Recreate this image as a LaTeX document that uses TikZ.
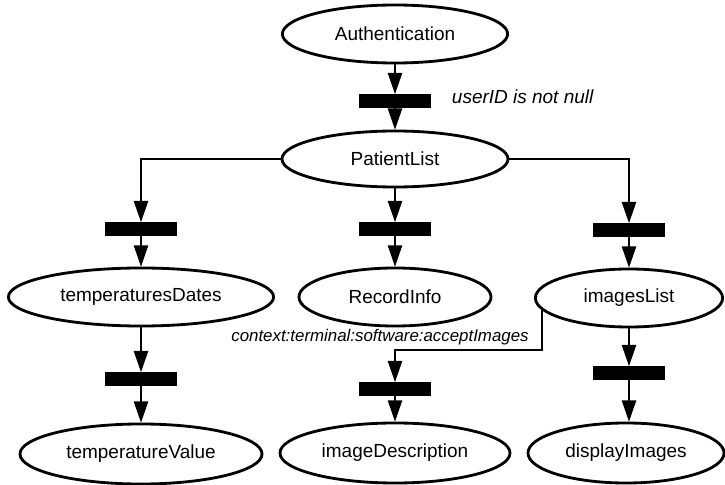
\documentclass[tikz,border=0pt]{standalone}
\usepackage{fontspec}
\setmainfont{Liberation Sans}
\usetikzlibrary{arrows.meta, shapes.geometric, calc}

\begin{document}
\begin{tikzpicture}[x=0.025cm, y=-0.025cm,
  task/.style={ellipse, draw, line width=2pt, minimum height=1.45cm, inner sep=0pt, font=\fontsize{13.5}{16}\selectfont},
  sync/.style={fill=black, minimum width=1.78cm, minimum height=0.33cm, inner sep=0pt},
  flow/.style={line width=0.9pt, -{Triangle[length=5.3mm,width=3.6mm]}},
  guard/.style={font=\fontsize{12}{14}\selectfont\itshape}]
\useasboundingbox (0,0) rectangle (725,485);
\node[task, minimum width=5.63cm] (auth) at (395,34) {Authentication};
\node[sync] (bar0) at (395,101) {};
\node[task, minimum width=5.65cm, minimum height=1.4cm] (patient) at (395,159) {PatientList};
\node[guard, anchor=west, font=\fontsize{13.5}{16}\selectfont\itshape] (guardauth) at (447,97) {userID is not null};
\node[sync] (barL) at (141,229) {};
\node[sync] (barM) at (395,229) {};
\node[sync] (barR) at (629,230) {};
\node[task, minimum width=6.63cm] (tempdates) at (141,297) {temperaturesDates};
\node[task, minimum width=4.8cm] (record) at (395,297) {RecordInfo};
\node[task, minimum width=4.68cm] (images) at (629,298) {imagesList};
\node[sync] (barL2) at (141,379) {};
\node[sync] (barM2) at (395,389) {};
\node[sync] (barR2) at (629,373) {};
\node[guard] (guardctx) at (380,337) {context:terminal:software:acceptImages};
\node[task, minimum width=6.05cm, minimum height=1.5cm] (tempvalue) at (141,454) {temperatureValue};
\node[task, minimum width=5.75cm, minimum height=1.5cm] (imagedesc) at (395,453) {imageDescription};
\node[task, minimum width=4.9cm, minimum height=1.5cm] (display) at (626,453) {displayImages};
\coordinate (ctxturn) at (0,350);
\draw[flow] (auth.south) -- (bar0.north);
\draw[flow] (bar0.south) -- (patient.north);
\draw[flow] (patient.west) -| (barL.north);
\draw[flow] (patient.south) -- (barM.north);
\draw[flow] (patient.east) -| (barR.north);
\draw[flow] (barL.south) -- (tempdates.north);
\draw[flow] (barM.south) -- (record.north);
\draw[flow] (barR.south) -- (images.north);
\draw[flow] (tempdates.south) -- (barL2.north);
\draw[flow] (barL2.south) -- (tempvalue.north);
\draw[flow] (images.188) -- (images.188 |- ctxturn) -| (barM2.north);
\draw[flow] (barM2.south) -- (imagedesc.north);
\draw[flow] (images.south) -- (barR2.north);
\draw[flow] (barR2.south) -- (barR2.south |- display.north);
\end{tikzpicture}
\end{document}
